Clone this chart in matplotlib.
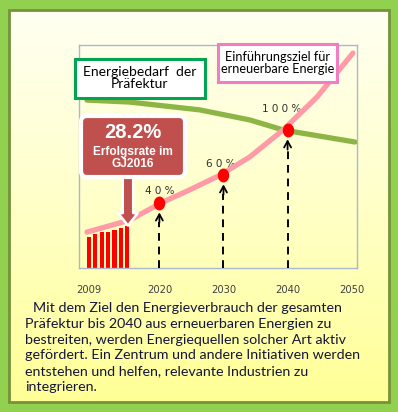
import numpy as np
import matplotlib.pyplot as plt
from matplotlib.colors import LinearSegmentedColormap
from matplotlib.patches import Rectangle, FancyBboxPatch
from matplotlib.path import Path
from matplotlib.transforms import Affine2D

# data (share axis is schematic, 0..100)
tick_years = [2009, 2020, 2030, 2040, 2050]
bar_years = [2009, 2010, 2011, 2012, 2013, 2014, 2015]
bar_share = [14.0, 15.1, 16.0, 16.3, 17.0, 17.8, 18.8]
target_years = [2008.7, 2015.4, 2020.2, 2024.7, 2029.5, 2034.1, 2039.3, 2044.6, 2050.2]
target_share = [16.1, 21.5, 29.1, 35.0, 41.7, 49.8, 61.9, 76.7, 96.4]
demand_years = [2008.7, 2015.4, 2026.3, 2034.1, 2039.3, 2050.5]
demand_share = [75.3, 74.4, 70.9, 66.4, 61.9, 56.5]
ms_years = [2020, 2030, 2040]
ms_share = [29.1, 41.7, 61.9]
ms_labels = ['4 0 %', '6 0 %', '1 0 0 %']
ms_offsets = [(0, 9), (-2, 8), (-4, 15)]

demand_label = 'Energiebedarf  der\nPräfektur'
target_label = 'Einführungsziel für\nerneuerbare Energie'
callout_big = '28.2%'
callout_small = 'Erfolgsrate im\nGJ2016'
paragraph = ['Mit dem Ziel den Energieverbrauch der gesamten',
             'Präfektur bis 2040 aus erneuerbaren Energien zu',
             'bestreiten, werden Energiequellen solcher Art aktiv',
             'gefördert. Ein Zentrum und andere Initiativen werden',
             'entstehen und helfen, relevante Industrien zu',
             'integrieren.']

W, H = 398, 412
fig = plt.figure(figsize=(W / 100, H / 100), dpi=100)
fig.patch.set_facecolor('#92d050')

# background panel with gradient
bg = fig.add_axes([0, 0, 1, 1], zorder=0)
bg.set_xlim(0, W)
bg.set_ylim(H, 0)
bg.axis('off')
bg.patch.set_visible(False)
cm = LinearSegmentedColormap.from_list('pan', ['#fffff2', '#ffffc8', '#ffff96'])
grad = np.linspace(0, 1, 256).reshape(-1, 1)
bg.imshow(grad, cmap=cm, extent=(9, 389, 402, 10), aspect='auto')
bg.add_patch(Rectangle((9, 10), 380, 392, fill=False, ec='#76923c', lw=2))

# chart axes
ax = fig.add_axes([79 / W, 1 - 268 / H, (357 - 79) / W, (268 - 45) / H], zorder=1)
ax.patch.set_visible(False)
ax.set_xlim(2007.46, 2050.83)
ax.set_ylim(0, 100)
for s in ax.spines.values():
    s.set_color('#a9b8cc')
    s.set_linewidth(1)
ax.set_yticks([])
ax.set_xticks(tick_years)
ax.set_xticklabels([str(t) for t in tick_years], fontsize=7.2, color='#404040',
                   family='DejaVu Sans')
ax.tick_params(axis='x', length=0, pad=12)

ax.bar(bar_years, bar_share, width=0.66, color='#ff0000', zorder=2)
ax.plot(demand_years, demand_share, color='#8db545', lw=3.8, solid_capstyle='round', zorder=3)
ax.plot(target_years, target_share, color='#ff9aa6', lw=3.8, solid_capstyle='round', zorder=4)

ell = Path.unit_circle().transformed(Affine2D().scale(0.8, 1.0))
ax.plot(ms_years, ms_share, ls='none', marker=ell, ms=9, color='#ff0000', zorder=5)
for yr, v, lab, off in zip(ms_years, ms_share, ms_labels, ms_offsets):
    ax.vlines(yr, 0, v - 8.5, colors='black', lw=1.4, linestyles=(0, (4, 3)), zorder=3)
    ax.annotate('', xy=(yr, v - 4.2), xytext=(yr, v - 8.8),
                arrowprops=dict(arrowstyle='->,head_length=0.45,head_width=0.25',
                                color='black', lw=1.3, shrinkA=0, shrinkB=0), zorder=3)
    ax.annotate(lab, xy=(yr, v), xytext=off, textcoords='offset points',
                ha='center', va='center', fontsize=7.5, color='#303030')

# callout arrow pointing at the last bar
ax.annotate('', xy=(bar_years[-1] + 0.1, bar_share[-1] + 0.2), xytext=(bar_years[-1] + 0.1, 42),
            arrowprops=dict(arrowstyle='simple,head_length=0.9,head_width=1.4,tail_width=0.75',
                            fc='#c0504d', ec='white', lw=1.8, shrinkA=0, shrinkB=0), zorder=6)

# overlay for boxes and paragraph
ov = fig.add_axes([0, 0, 1, 1], zorder=2)
ov.set_xlim(0, W)
ov.set_ylim(H, 0)
ov.axis('off')
ov.patch.set_visible(False)

ov.add_patch(Rectangle((75, 59), 130, 39, fc='white', ec='#00a550', lw=2.2))
ov.text(140, 78, demand_label, ha='center', va='center', fontsize=10,
        family='Lato', color='black', linespacing=1.0)
ov.add_patch(Rectangle((218, 44), 119, 38, fc='white', ec='#f27dc0', lw=2.2))
ov.text(277.5, 63, target_label, ha='center', va='center', fontsize=9.1,
        family='Lato', color='black', linespacing=1.0)

ov.add_patch(FancyBboxPatch((83, 118), 100, 57, boxstyle='round,pad=2,rounding_size=6',
                            fc='#c0504d', ec='white', lw=3))
ov.text(133, 133, callout_big, ha='center', va='center', fontsize=14.5,
        family='Liberation Sans', weight='bold', color='white')
ov.text(133, 158, callout_small, ha='center', va='center', fontsize=8.6,
        family='Liberation Sans', weight='bold', color='white', linespacing=1.0)

y0 = 308
for i, line in enumerate(paragraph):
    x = 33 if i == 0 else 25
    ov.text(x, y0 + i * 15.8, line, ha='left', va='center', fontsize=10.3,
            family='Lato', color='#15153a')

fig.savefig('out.png', dpi=100, facecolor=fig.get_facecolor())
